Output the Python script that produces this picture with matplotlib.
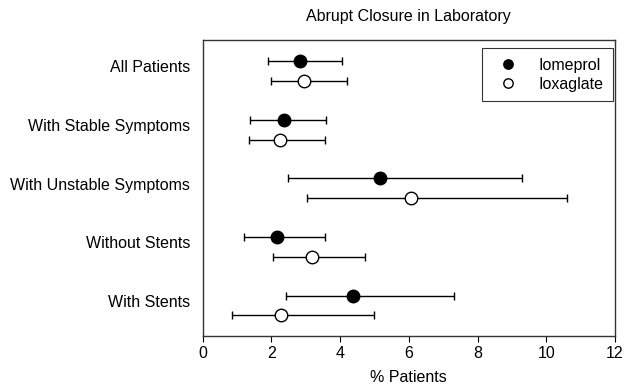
import matplotlib.pyplot as plt
import numpy as np

plt.rcParams['font.family'] = ['Liberation Sans', 'DejaVu Sans']

groups = ['All Patients', 'With Stable Symptoms', 'With Unstable Symptoms',
          'Without Stents', 'With Stents']

# Iomeprol: point estimate and confidence limits
iom_val = [2.85, 2.36, 5.16, 2.17, 4.38]
iom_lo = [1.90, 1.38, 2.48, 1.21, 2.43]
iom_hi = [4.07, 3.59, 9.30, 3.56, 7.32]

# Ioxaglate
iox_val = [2.94, 2.26, 6.07, 3.18, 2.29]
iox_lo = [2.00, 1.35, 3.04, 2.05, 0.87]
iox_hi = [4.20, 3.56, 10.59, 4.74, 4.99]

fig = plt.figure(figsize=(6.25, 3.86), dpi=100)
ax = fig.add_axes([0.324, 0.1295, 0.66, 0.767])

pos = np.arange(len(groups))
off = 0.17

iom_val = np.array(iom_val)
iox_val = np.array(iox_val)
iom_err = [iom_val - np.array(iom_lo), np.array(iom_hi) - iom_val]
iox_err = [iox_val - np.array(iox_lo), np.array(iox_hi) - iox_val]

ax.errorbar(iom_val, pos - off, xerr=iom_err, fmt='o', color='black',
            mfc='black', mec='black', ms=9, capsize=3, elinewidth=1,
            capthick=1, label='Iomeprol', zorder=3)
ax.errorbar(iox_val, pos + off, xerr=iox_err, fmt='o', color='black',
            mfc='white', mec='black', ms=9, capsize=3, elinewidth=1,
            capthick=1, label='Ioxaglate', zorder=3)

fs = 11.5
ax.set_xlim(0, 12)
ax.set_ylim(4.52, -0.53)
ax.set_xticks(range(0, 13, 2))
ax.set_yticks(pos - 0.08)
ax.set_yticklabels(groups, fontsize=fs)
ax.tick_params(axis='y', length=0, pad=9)
ax.tick_params(axis='x', labelsize=fs, length=4, direction='out')
ax.set_xlabel('% Patients', fontsize=fs, labelpad=6)
ax.set_title('Abrupt Closure in Laboratory', fontsize=fs, pad=14)

for s in ax.spines.values():
    s.set_linewidth(1.0)
    s.set_color('#333333')

h, l = ax.get_legend_handles_labels()
h = [hh[0] for hh in h]
leg = ax.legend(h, l, loc='upper right', fontsize=fs, frameon=True,
                fancybox=False, edgecolor='black', handletextpad=0.9,
                handlelength=2.0, borderpad=0.6, labelspacing=0.25,
                markerscale=0.75, borderaxespad=0,
                bbox_to_anchor=(0.995, 0.973))
leg.get_frame().set_linewidth(0.8)

fig.savefig('out.png', dpi=100)
